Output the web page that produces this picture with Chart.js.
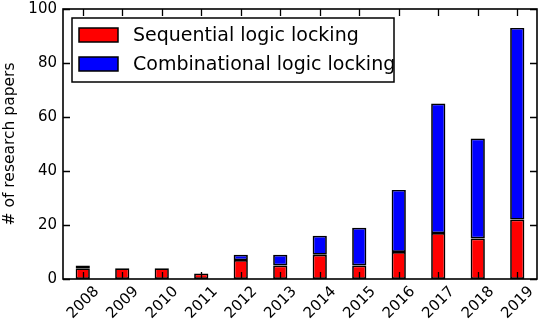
<!DOCTYPE html>
<html lang="en">
<head>
  <meta charset="UTF-8" />
  <title>Logic locking papers per year</title>
  <script src="https://cdn.jsdelivr.net/npm/chart.js"></script>
  <style>
    html, body { margin: 0; padding: 0; background: #fff; }
    #wrap { width: 539px; height: 323px; }
  </style>
</head>
<body>
  <div id="wrap"><canvas id="paperChart" width="539" height="323"></canvas></div>

  <script>
    const years = ['2008', '2009', '2010', '2011', '2012', '2013', '2014', '2015', '2016', '2017', '2018', '2019'];
    const sequential = [4, 4, 4, 2, 7, 5, 9, 5, 10, 17, 15, 22];
    const combinational = [1, 0, 0, 0, 2, 4, 7, 14, 23, 48, 37, 71];
    const yTicks = [0, 20, 40, 60, 80, 100];

    const FONT = 'DejaVu Sans';

    // matplotlib-like frame with inward ticks on all four sides + boxed legend
    const mplFrame = {
      id: 'mplFrame',
      afterDatasetsDraw(chart) {
        const { ctx, chartArea: a, scales } = chart;
        const len = 7;
        ctx.save();
        ctx.strokeStyle = '#000';
        ctx.lineWidth = 1.3;
        ctx.beginPath();
        yTicks.forEach(v => {
          const y = Math.round(scales.y.getPixelForValue(v)) + 0.5;
          ctx.moveTo(a.left, y); ctx.lineTo(a.left + len, y);
          ctx.moveTo(a.right, y); ctx.lineTo(a.right - len, y);
        });
        years.forEach((_, i) => {
          const x = Math.round(scales.x.getPixelForValue(i)) + 0.5;
          ctx.moveTo(x, a.bottom); ctx.lineTo(x, a.bottom - len);
          ctx.moveTo(x, a.top); ctx.lineTo(x, a.top + len);
        });
        ctx.stroke();
        ctx.lineWidth = 1.6;
        ctx.strokeRect(a.left, a.top, a.right - a.left, a.bottom - a.top);
        ctx.restore();
      },
      afterDraw(chart) {
        const { ctx } = chart;
        ctx.save();
        ctx.fillStyle = '#fff';
        ctx.strokeStyle = '#000';
        ctx.lineWidth = 1.5;
        ctx.fillRect(72, 18, 322, 64);
        ctx.strokeRect(72, 18, 322, 64);
        ctx.font = '19px "' + FONT + '"';
        ctx.textBaseline = 'middle';
        chart.data.datasets.forEach((ds, i) => {
          const y = 28 + i * 29;
          ctx.fillStyle = ds.backgroundColor;
          ctx.fillRect(79, y, 39, 14);
          ctx.strokeRect(79, y, 39, 14);
          ctx.fillStyle = '#000';
          ctx.fillText(ds.label, 133, y + 8);
        });
        ctx.restore();
      }
    };

    new Chart(document.getElementById('paperChart'), {
      type: 'bar',
      data: {
        labels: years,
        datasets: [
          {
            label: 'Sequential logic locking',
            data: sequential,
            backgroundColor: '#ff0000',
            borderColor: '#000',
            borderWidth: 1.7,
            borderSkipped: false,
            barPercentage: 0.36,
            categoryPercentage: 1
          },
          {
            label: 'Combinational logic locking',
            data: combinational,
            backgroundColor: '#0000ff',
            borderColor: '#000',
            borderWidth: 1.7,
            borderSkipped: false,
            barPercentage: 0.36,
            categoryPercentage: 1
          }
        ]
      },
      options: {
        responsive: false,
        animation: false,
        layout: { padding: { top: 9, right: 2, left: 0, bottom: 0 } },
        plugins: {
          legend: { display: false },
          tooltip: { enabled: false }
        },
        scales: {
          x: {
            stacked: true,
            grid: { display: false, drawTicks: false },
            border: { display: false },
            ticks: {
              color: '#000',
              font: { family: FONT, size: 15 },
              minRotation: 45,
              maxRotation: 45,
              labelOffset: 14,
              padding: 4,
              autoSkip: false
            },
            afterFit(scale) {
              scale.height = 44;
              scale.paddingLeft = 0;
              scale.paddingRight = 0;
            }
          },
          y: {
            stacked: true,
            min: 0,
            max: 100,
            grid: { display: false, drawTicks: false },
            border: { display: false },
            ticks: {
              color: '#000',
              font: { family: FONT, size: 15 },
              stepSize: 20,
              padding: 6
            },
            title: {
              display: true,
              text: '# of research papers',
              color: '#000',
              font: { family: FONT, size: 15.5 },
              padding: { top: 1, bottom: 0 }
            },
            afterFit(scale) {
              scale.width = 63;
              scale.paddingTop = 0;
              scale.paddingBottom = 0;
            }
          }
        }
      },
      plugins: [mplFrame]
    });
  </script>
</body>
</html>
